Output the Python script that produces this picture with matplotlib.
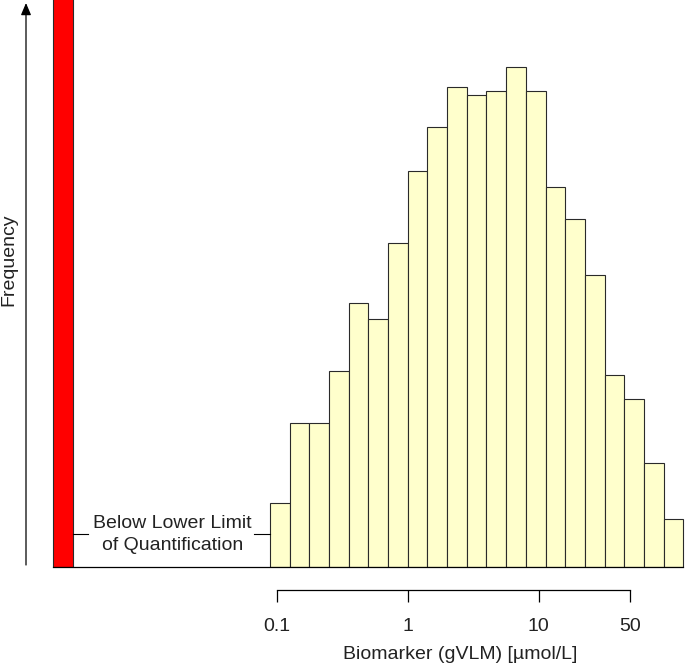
import numpy as np
import matplotlib
matplotlib.use("Agg")
import matplotlib.pyplot as plt

plt.rcParams['font.family'] = ['Liberation Sans', 'DejaVu Sans']

# histogram bins: half log2 steps from 2^-3.5 to 2^7
bin_edges = 2.0 ** (np.arange(-7, 15) / 2)
counts = [16, 36, 36, 49, 66, 62, 81, 99, 110, 120, 118,
          119, 125, 119, 95, 87, 73, 48, 42, 26, 12]

# values below the limit of quantification (bar runs off the top)
bllq_edges = [2.0 ** -9, 2.0 ** -8.5]
bllq_count = 145

tick_vals = [0.1, 1, 10, 50]
tick_labels = ['0.1', '1', '10', '50']

W, H = 685, 664
fig = plt.figure(figsize=(W / 100, H / 100), dpi=100)
base_px = 567
ax = fig.add_axes([0, (H - base_px) / H, 1, base_px / H])


def px2x(px):
    # pixel column -> data x (log axis, 1 decade = 130.8 px, x=1 at 407.7)
    return 10 ** ((px - 407.7) / 130.8)


ax.set_xscale('log')
ax.set_xlim(px2x(0), px2x(W))
ax.set_ylim(0, base_px / 4)

ax.bar(bin_edges[:-1], counts, width=np.diff(bin_edges), align='edge',
       color='#FFFFCC', edgecolor='#2a2a2a', linewidth=0.8, zorder=2)
ax.bar(bllq_edges[0], bllq_count, width=bllq_edges[1] - bllq_edges[0],
       align='edge', color='#FF0000', edgecolor='#2a2a2a', linewidth=0.8,
       zorder=2)

# baseline under all bars
ax.plot([bllq_edges[0], bin_edges[-1]], [0, 0], color='black', lw=0.9,
        clip_on=False, zorder=3)

# annotation between the two groups
yl = (base_px - 534.3) / 4
ax.plot([bllq_edges[1], px2x(88)], [yl, yl], color='black', lw=0.8)
ax.plot([px2x(253.5), bin_edges[0]], [yl, yl], color='black', lw=0.8)
ax.text(px2x(172.5), yl, 'Below Lower Limit\nof Quantification',
        ha='center', va='center', fontsize=14, linespacing=1.37,
        color='#222222')

# R style detached x axis
for s in ['top', 'right', 'left']:
    ax.spines[s].set_visible(False)
ax.spines['bottom'].set_position(('outward', 16.6))
ax.spines['bottom'].set_bounds(0.1, 50)
ax.spines['bottom'].set_linewidth(0.9)
ax.set_xticks(tick_vals)
ax.set_xticklabels(tick_labels)
ax.xaxis.set_minor_locator(matplotlib.ticker.NullLocator())
ax.tick_params(axis='x', length=8.4, width=0.9, pad=11.5, labelsize=14,
               labelcolor='#222222')
ax.set_yticks([])

fig.text(460 / W, 5 / H, 'Biomarker (gVLM) [µmol/L]', ha='center',
         va='baseline', fontsize=14, color='#222222')
fig.text(0 / W, (H - 260) / H, 'Frequency', rotation=90, ha='left',
         va='center', fontsize=14, color='#222222')

# y axis arrow
ax.annotate('', xy=(26, H - 3), xytext=(26, H - 565),
            xycoords='figure pixels', textcoords='figure pixels',
            arrowprops=dict(arrowstyle='-|>,head_length=0.4,head_width=0.17',
                            mutation_scale=18, color='black', lw=0.9,
                            shrinkA=0, shrinkB=0))

fig.savefig('out.png', dpi=100)
